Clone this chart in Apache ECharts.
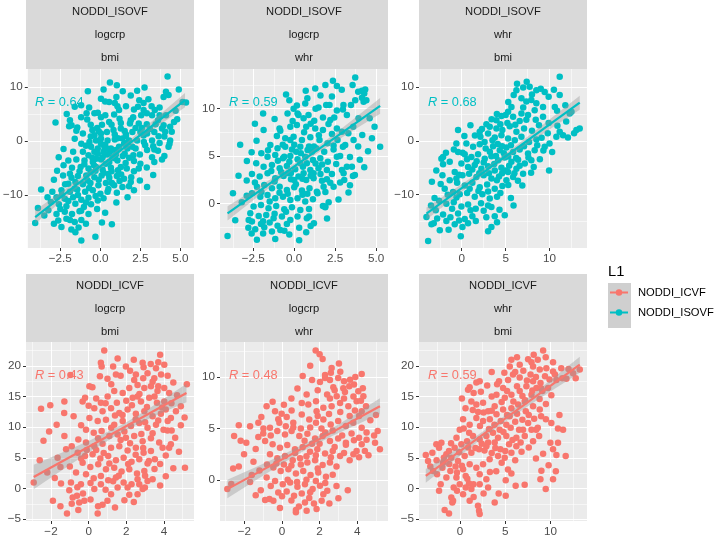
<!DOCTYPE html>
<html><head><meta charset="utf-8">
<script src="https://cdn.jsdelivr.net/npm/echarts@6/dist/echarts.min.js"></script>
<style>html,body{margin:0;padding:0;background:#fff}#c{width:715px;height:538px}</style>
</head><body><div id="c"></div>
<script>
// ---------------- DATA ----------------
const stripTitles = [
  ["NODDI_ISOVF","logcrp","bmi"],["NODDI_ISOVF","logcrp","whr"],["NODDI_ISOVF","whr","bmi"],
  ["NODDI_ICVF","logcrp","bmi"],["NODDI_ICVF","logcrp","whr"],["NODDI_ICVF","whr","bmi"]
];
const panelGroups = ["NODDI_ISOVF","NODDI_ISOVF","NODDI_ISOVF","NODDI_ICVF","NODDI_ICVF","NODDI_ICVF"];
const legendNames = ["NODDI_ICVF","NODDI_ISOVF"];
const legendTitle = "L1";
const rValues = ["0.64","0.59","0.68","0.43","0.48","0.59"];

const p1Points = [[-4.07,-15.2],[-3.7,-9.0],[5.14,7.2],[5.35,7.1],[4.2,11.9],[4.9,9.5],[4.1,9.1],[4.26,8.5],[3.95,8.1],[2.76,9.9],[2.3,9.3],[1.03,10.3],[0.2,9.5],[-0.78,9.2],[2.43,7.5],[2.7,7.0],[2.35,6.3],[0.04,7.8],[0.3,7.3],[0.55,7.2],[1.0,8.1],[1.07,6.4],[1.17,5.7],[1.6,6.4],[3.2,6.4],[3.4,5.7],[3.7,6.2],[2.7,5.7],[2.05,4.4],[2.55,4.75],[2.9,5.1],[3.23,4.75],[3.7,4.75],[4.1,4.75],[-0.86,5.1],[-0.37,5.1],[-0.16,5.2],[0.86,4.9],[0.31,4.75],[-1.9,3.8],[-1.8,2.9],[-1.44,2.5],[-1.95,2.7],[-1.2,4.4],[-0.82,3.95],[0.04,4.4],[0.55,3.5],[1.28,3.3],[1.85,3.2],[2.4,3.2],[2.9,3.1],[3.45,3.1],[3.95,2.9],[4.36,2.6],[3.85,2.3],[4.05,1.7],[4.46,1.7],[-1.09,1.36],[-0.37,1.05],[0.04,1.36],[0.41,1.67],[0.82,2.0],[1.28,2.3],[1.52,1.85],[2.0,1.67],[2.5,1.67],[2.92,1.36],[3.37,1.67],[3.64,0.86],[-1.19,-0.5],[-0.68,-0.2],[-0.27,0.1],[0.04,0.43],[0.45,0.1],[0.9,0.25],[1.38,0.43],[1.8,0.1],[2.3,0.1],[2.72,-0.2],[3.23,0.1],[3.7,-0.4],[4.32,-0.5],[-0.58,-1.1],[-0.16,-1.4],[0.25,-1.1],[0.66,-1.4],[1.17,-1.1],[1.69,-1.4],[2.2,-1.4],[2.92,-1.7],[3.37,-1.6],[-1.7,-2.0],[-1.09,-2.0],[-0.74,-2.65],[-0.16,-2.35],[0.41,-2.5],[0.97,-2.5],[1.52,-2.35],[2.06,-2.65],[2.47,-2.5],[-2.0,-3.6],[-1.5,-3.45],[-0.99,-3.6],[-0.47,-3.9],[0.04,-3.45],[0.56,-3.9],[1.07,-3.6],[1.58,-4.07],[2.1,-3.7],[2.5,-4.2],[3.37,-3.9],[3.85,-3.45],[-2.3,-4.5],[-1.77,-4.94],[-1.23,-4.8],[-0.74,-5.1],[-0.27,-4.8],[0.14,-5.3],[0.66,-4.94],[1.1,-5.4],[1.65,-5.1],[2.1,-5.6],[-2.33,-6.4],[-1.9,-6.05],[-1.4,-6.5],[-0.88,-6.4],[-0.37,-6.7],[0.08,-6.4],[0.56,-6.8],[1.03,-6.5],[1.48,-7.0],[1.93,-6.7],[-2.0,-7.9],[-1.56,-7.6],[-1.09,-8.0],[-0.62,-7.8],[-0.12,-8.2],[0.35,-7.8],[0.86,-8.2],[1.38,-8.5],[1.79,-8.4],[2.1,-9.1],[-2.43,-9.1],[-1.9,-9.4],[-1.44,-9.0],[-0.95,-9.4],[-0.47,-9.1],[0,-9.75],[0.45,-9.4],[1.03,-9.6],[0.72,-7.8],[-2.74,-10.4],[-2.22,-10.7],[-1.7,-10.4],[-1.19,-10.9],[-0.74,-10.5],[-0.16,-11.0],[-3.09,-11.3],[-2.59,-11.7],[-2.12,-12.1],[-1.56,-11.6],[-1.03,-12.2],[-0.58,-11.7],[-3.25,-12.8],[-2.74,-13.5],[-2.22,-13.1],[-1.77,-13.5],[-1.3,-13.0],[-0.74,-13.5],[-2.63,-14.7],[-2.12,-14.4],[-1.6,-15.0],[-1.19,-14.6],[-2.43,-15.9],[-1.81,-16.4],[-1.36,-16.0],[-1.56,-16.9],[-1.19,-18.4],[-0.31,-17.7],[0.72,-15.4],[0.04,-0.5],[-0.37,-2.0],[0.14,-3.0],[-0.27,-3.3],[0.35,-4.2],[0.76,-3.0],[1.28,-4.8],[0.97,-1.7],[1.48,-0.5],[2.0,-1.1],[4.36,0.1],[4.26,-1.1],[2.47,-7.3],[2.92,-8.5],[3.23,-3.0],
[-0.6,0.8],[0.3,-0.7],[0.9,1.2],[-0.2,2.4],[1.6,0.9],[0.6,-2.0],[-0.9,-0.9],[1.9,3.8],[2.6,2.4],[-0.4,-4.5],[0.2,-5.9],[-1.3,-5.6],[0.9,-3.2],[1.4,-2.8],[-0.1,-7.2],[-0.8,-7.3],[-1.6,-8.8],[-2.2,-8.0],[0.5,-8.9],[-0.3,-10.2],[-1.4,-10.0],[-2.0,-11.1],[-1.2,-12.9],[-2.5,-12.6],[-0.2,-12.6],[1.8,-3.1],[2.8,-0.8],[3.1,2.2],[3.6,3.8],[1.2,4.1],[0.1,3.0],[-0.5,2.0],[-1.5,1.9],[-1.6,0.4],[-2.3,-1.5],[-2.6,-3.0],[-2.9,-7.2],[-3.0,-9.4],[-3.5,-13.8],[-0.9,-15.3],[0.3,-13.3],[1.0,-11.4],[1.7,-10.4],[1.3,-6.2],[2.4,-5.1],[2.9,-4.9],[3.3,-6.3],[3.6,-1.8],[4.0,0.8],[4.6,3.5],[4.7,5.6],[3.0,7.7],[1.9,8.4],[1.4,9.2],[0.6,10.8],[-1.2,6.6],[-2.1,5.0],[-2.8,3.4],[-0.6,-5.8],[0.7,-5.6],[1.9,-7.6],[-1.8,-6.8],[-2.7,-5.5],[-0.1,1.8],[0.7,3.0],[2.2,2.4],[1.7,-0.3],[0.2,-2.0],[-0.5,-3.1],[-1.0,-4.3],[0.5,-6.1],[1.2,-7.4],[-0.9,-11.4],[-1.9,-14.6],[-2.9,-15.3],[-3.9,-12.4],[0.1,-15.1],[1.6,1.2],[2.7,1.0],[3.3,-1.0],[4.0,-2.8],[4.8,4.0],[2.1,5.8],[0.9,7.0],[-0.7,6.2],[-1.6,6.3],[-0.6,3.0],[1.1,0.5],[0.4,-1.4],[-0.3,-5.5],[-0.7,-8.7],[0.2,-10.6],[-2.4,-10.0],[-3.3,-10.4]];

const p2Points = [[-4.07,-3.45],[-3.74,1.06],[-2.28,-3.87],[-1.16,-3.77],[-2.89,4.47],[-1.87,7.75],[0.73,-3.06],[0.77,-1.58],[1.89,-0.35],[1.75,-0.28],[3.31,1.13],[5.24,5.99],[4.74,6.87],[4.27,3.8],[3.52,3.87],[3.58,2.89],[3.05,2.46],[2.36,12.96],[3.72,13.3],[2.6,12.4],[3.56,12.5],[1.28,12.15],[4.33,12.04],[4.27,11.6],[4.13,11.9],[4.13,11.16],[4.23,10.74],[3.72,10.9],[1.95,10.4],[2.15,10.4],[1.48,10.14],[2.97,9.93],[3.46,10.4],[0.16,10.35],[-0.04,10.0],[0.67,10.56],[-0.41,9.5],[0.26,9.33],[0.57,8.98],[0.87,9.33],[1.22,8.73],[1.75,9.08],[2.44,9.08],[3.21,9.33],[3.92,8.98],[2.09,8.38],[-0.85,7.68],[-0.24,8.1],[0.16,8.27],[0.73,8.1],[1.28,7.92],[1.75,7.75],[2.3,7.32],[2.91,7.57],[3.62,6.69],[4.15,7.22],[-1.06,7.11],[-0.55,6.87],[-0.04,7.04],[0.47,6.69],[0.98,6.97],[1.54,6.69],[2.03,6.34],[2.64,6.69],[3.11,6.16],[-1.46,6.16],[-1.02,5.81],[-0.55,5.99],[-0.14,5.7],[0.37,5.99],[0.81,5.63],[1.34,5.81],[1.83,5.46],[2.4,5.7],[2.97,5.99],[-2.01,5.28],[-1.63,4.93],[-1.16,5.11],[-0.69,4.75],[-0.24,5.0],[0.2,4.65],[0.67,4.93],[1.14,4.58],[1.59,4.75],[2.05,4.4],[2.56,4.15],[-2.32,4.23],[-1.87,3.87],[-1.36,4.05],[-0.89,3.7],[-0.45,3.94],[0.06,3.59],[0.53,3.87],[0.98,3.52],[1.48,3.7],[1.99,3.52],[-2.58,3.1],[-2.11,2.82],[-1.63,3.17],[-1.16,2.64],[-0.65,2.89],[-0.2,2.54],[0.26,2.82],[0.73,2.46],[1.18,2.64],[1.69,2.39],[2.2,2.18],[-2.28,1.76],[-1.83,1.94],[-1.36,1.58],[-0.89,1.76],[-0.45,1.41],[0,1.69],[0.47,1.34],[0.93,1.58],[1.38,1.23],[1.42,1.06],[-2.58,1.06],[-2.07,0.7],[-1.63,0.88],[-1.16,0.53],[-0.69,0.7],[-0.24,0.35],[0.2,0.53],[0.67,0.18],[1.14,0.42],[-2.48,-0.35],[-2.03,-0.18],[-1.57,-0.53],[-1.1,-0.28],[-0.61,-0.63],[-0.14,-0.42],[0.37,-0.7],[1.89,-0.42],[-2.68,-1.06],[-2.17,-1.34],[-1.71,-1.23],[-1.26,-1.58],[-0.75,-1.41],[-0.24,-1.76],[-2.58,-1.94],[-2.03,-2.18],[-1.5,-2.04],[-1.02,-2.39],[-0.45,-2.18],[-2.38,-2.75],[-1.83,-2.54],[-1.36,-2.99],[-0.85,-2.82],[-2.78,-1.76],[3.01,3.17],[3.21,3.87],[2.6,4.93],[2.91,3.52],[1.99,2.54],[2.4,1.76],[1.79,1.76],[-0.24,6.69],[0.12,5.46],[0.37,4.23],[0.57,3.17],[0,2.46],[-0.35,3.17],[0.77,4.23],[-0.61,4.93],[1.08,5.46],[1.18,3.17],
[-0.3,4.4],[0.4,5.3],[0.9,6.0],[1.3,4.2],[-0.8,3.3],[-1.2,2.3],[0.1,2.0],[0.8,1.0],[1.6,3.1],[2.3,3.1],[2.8,5.0],[3.4,4.9],[3.9,6.0],[2.6,7.9],[1.0,8.4],[-0.1,8.7],[-0.7,6.2],[-1.6,5.6],[-2.4,2.2],[-2.9,2.4],[-3.2,0.1],[-2.8,-2.6],[-1.9,-3.2],[-1.2,-1.1],[-0.5,-0.9],[0.2,-1.4],[0.9,-0.6],[1.2,-2.1],[0.3,-2.6],[-0.6,-2.9],[-1.5,0.2],[-2.0,1.2],[-0.9,1.1],[0.5,0.9],[1.9,1.2],[2.8,2.2],[3.7,3.0],[4.0,4.6],[4.5,5.5],[3.6,8.1],[3.0,10.4],[2.3,11.3],[1.6,11.4],[0.8,11.1],[-0.3,10.9],[-1.2,8.9],[-2.3,6.6],[-2.6,5.4],[-3.4,2.9],[0.0,6.2],[0.6,7.5],[1.5,7.2],[2.2,8.8],[3.3,7.4],[4.6,9.0],[4.9,8.1],[3.9,11.8],[2.9,12.0],[1.9,12.5],[-0.5,11.5],[-1.9,9.5],[-2.4,8.4],[-3.3,6.2],[-3.6,-1.8],[-2.6,-3.2],[-0.3,-3.3],[0.3,-3.9],[1.0,-2.4],[2.0,-1.6],[2.7,0.4],[3.4,1.9],[1.2,6.0],[-0.2,3.2],[-1.0,4.5],[0.5,2.6],[1.7,4.1],[2.4,6.1],[-0.9,7.9],[0.2,9.5],[1.3,10.0],[2.6,9.8],[-1.4,3.4],[-0.4,1.0],[1.0,2.9],[2.1,0.1],[-1.9,-1.9],[-2.9,0.8],[0.7,11.9],[0.9,-1.4],[4.4,10.9]];

const p3Points = [[-4.02,-14.16],[-3.83,-18.6],[-3.45,-15.5],[-3.19,-15.3],[-2.5,-16.6],[-0.11,-17.7],[3.0,-16.8],[3.38,-16.0],[4.02,-15.1],[3.76,-14.0],[11.16,11.9],[11.16,8.5],[13.44,2.3],[13.06,2.0],[12.3,5.1],[12.5,5.4],[10.86,5.6],[10.6,6.3],[9.95,-5.5],[10.3,-2.05],[9.45,-1.1],[10.0,-0.5],[12.1,0.62],[11.54,1.06],[11.16,1.68],[10.78,0.75],[7.74,10.06],[7.0,9.9],[8.5,9.4],[9.45,9.1],[6.23,9.4],[5.92,8.5],[6.8,7.9],[7.36,7.3],[7.93,7.6],[8.5,7.0],[9.26,6.3],[8.31,5.7],[7.55,4.8],[6.8,5.1],[5.66,6.3],[5.0,4.8],[5.85,4.5],[6.6,3.7],[7.36,3.9],[8.43,3.9],[9.26,4.5],[8.8,2.9],[-0.42,2.0],[0.99,2.9],[-2.32,-3.3],[-2.13,-4.35],[-1.37,-3.9],[-2.2,-6.4],[3.19,2.6],[3.95,2.3],[4.63,2.0],[5.47,2.7],[6.23,1.68],[2.13,0.75],[3.0,1.37],[3.76,0.62],[4.52,1.06],[5.28,0.43],[6.04,0.12],[6.8,0.75],[7.67,-0.19],[8.5,0.25],[0.53,-0.5],[1.29,-1.1],[2.05,-0.62],[2.73,-1.43],[3.57,-1.0],[4.33,-1.74],[5.09,-1.24],[5.85,-2.05],[6.6,-1.6],[7.55,-2.36],[8.31,-1.74],[-0.42,-2.05],[0.34,-2.5],[1.1,-3.0],[1.86,-2.5],[2.62,-3.3],[3.38,-2.86],[4.14,-3.6],[4.9,-3.1],[5.66,-3.9],[6.42,-3.5],[7.18,-4.2],[7.93,-3.6],[8.2,-4.84],[-0.04,-4.2],[0.72,-4.84],[1.48,-4.5],[2.24,-5.16],[3.0,-4.7],[3.76,-5.5],[4.52,-5.0],[5.28,-5.8],[6.23,-5.16],[6.99,-6.1],[-0.8,-5.8],[0.08,-6.4],[0.84,-6.1],[1.67,-6.7],[2.5,-6.4],[3.38,-7.0],[4.25,-6.6],[5.09,-7.3],[5.85,-6.7],[-1.37,-7.3],[-0.53,-7.8],[0.34,-8.3],[1.21,-7.8],[2.05,-8.6],[2.89,-8.1],[3.76,-8.9],[4.63,-8.4],[-1.94,-8.9],[-0.99,-9.5],[-0.23,-9.9],[0.61,-9.7],[1.48,-10.4],[2.35,-9.9],[3.19,-10.7],[4.02,-10.4],[-2.58,-11.1],[-1.75,-11.7],[-0.91,-11.4],[-0.04,-12.2],[0.72,-11.8],[1.59,-12.6],[2.5,-13.0],[3.38,-12.3],[-2.96,-12.9],[-2.13,-13.7],[-1.29,-14.2],[-0.42,-13.5],[0.34,-14.5],[1.21,-14.0],[-1.75,-14.9],[-0.8,-15.5],[0.08,-16.0],[0.72,-15.3],[-0.61,-7.0],[-2.13,-3.0],[-0.61,-0.5],[2.05,1.68],[2.81,3.1],[3.95,3.85],[4.52,4.6],[5.28,5.4],
[3.2,-2.0],[4.1,-0.6],[4.8,-2.3],[5.6,-0.8],[2.5,-4.0],[3.7,-4.3],[4.6,-6.0],[5.4,-4.6],[6.2,-3.2],[7.1,-1.0],[2.0,-6.0],[1.2,-5.3],[0.6,-3.4],[-0.3,-6.3],[1.9,-9.3],[3.0,-9.4],[4.4,-9.7],[5.3,-8.2],[6.4,-7.4],[0.9,-8.9],[-0.6,-10.5],[-1.6,-10.0],[-2.4,-8.0],[-3.1,-10.6],[-3.5,-12.0],[-2.8,-14.4],[-1.5,-16.5],[-0.3,-14.8],[1.0,-12.9],[2.2,-11.6],[3.0,-12.0],[4.3,-12.8],[5.6,-10.6],[6.9,-8.3],[7.9,-5.9],[8.9,-3.4],[9.3,-1.8],[9.8,1.4],[10.9,2.8],[11.9,3.6],[12.8,1.4],[9.9,3.3],[8.0,1.9],[7.1,2.3],[6.1,3.0],[5.2,3.3],[4.4,3.1],[3.4,4.0],[2.3,2.2],[1.5,1.0],[0.3,0.9],[-0.9,-1.6],[-1.8,-2.2],[-2.9,-5.5],[-3.4,-7.6],[7.0,6.2],[8.0,8.6],[6.3,10.6],[9.9,8.2],[10.5,9.5],[11.8,6.6],[9.0,9.7],[7.4,11.0],[5.3,7.2],[4.0,5.0],[3.1,-6.0],[4.0,-7.3],[5.0,-5.5],[6.0,-6.0],[6.6,-4.6],[7.6,-3.1],[8.6,-0.8],[9.1,0.6],[1.7,-3.8],[0.1,-2.2],[1.6,-14.9],[2.8,-14.2],[-1.1,-12.6],[4.9,-13.8],[5.9,-12.0],[2.6,-0.2],[3.5,0.1],[4.6,-1.0],[5.3,-2.9],[3.9,-2.8]];

const p4Points = [[-2.92,0.97],[-2.53,13.0],[-2.04,13.6],[-1.29,14.2],[-0.97,18.5],[-1.29,8.55],[-1.65,5.0],[-1.5,3.5],[-1.47,0.8],[-0.94,0.97],[-1.03,-0.27],[-0.85,-1.46],[-1.15,-4.06],[-0.55,-3.5],[-0.5,-2.27],[-0.23,-2.0],[-0.62,-1.19],[0.48,-4.06],[0.74,-2.65],[0.04,16.7],[-0.32,14.2],[-0.19,14.8],[0.83,22.5],[0.65,20.5],[0.69,19.9],[1.54,21.2],[1.45,18.6],[1.98,19.9],[2.87,20.5],[2.92,19.8],[3.8,21.8],[4.02,20.2],[3.58,19.6],[5.22,17.0],[5.12,3.4],[4.9,13.4],[4.64,12.6],[4.37,11.5],[4.41,9.47],[4.19,9.47],[4.37,7.2],[4.28,6.66],[3.93,6.66],[3.52,4.76],[3.4,1.5],[3.13,1.24],[2.99,0.16],[2.87,-0.1],[2.6,-0.92],[2.16,-1.03],[1.19,-0.92],[1.54,0.16],[2.51,18.6],[2.42,17.7],[3.13,18.8],[3.49,18.0],[3.85,18.6],[2.6,16.9],[2.96,16.4],[3.31,16.7],[3.66,15.9],[4.02,16.4],[4.28,15.6],[2.16,16.4],[1.81,15.6],[1.36,15.9],[1.01,15.0],[0.65,14.0],[2.34,14.8],[2.78,14.2],[3.22,14.8],[3.63,14.0],[4.02,14.2],[0.3,13.1],[0.74,12.6],[1.19,13.1],[1.63,12.3],[2.07,12.9],[2.51,12.2],[2.96,12.6],[3.4,11.8],[3.84,12.2],[0.04,11.5],[0.48,11.0],[0.92,11.2],[1.36,10.4],[1.81,11.0],[2.25,10.2],[2.69,10.7],[3.13,9.9],[3.58,10.4],[3.98,9.6],[-0.14,9.6],[0.27,9.1],[0.69,9.4],[1.1,8.55],[1.54,8.8],[1.98,8.3],[2.42,8.55],[2.87,7.7],[3.31,8.2],[3.75,7.5],[-0.55,8.0],[-0.14,7.5],[0.3,6.9],[0.74,7.3],[1.19,6.66],[1.63,6.9],[2.07,6.2],[2.51,6.66],[2.92,5.84],[3.31,6.1],[-0.58,5.84],[-0.19,5.3],[0.21,5.57],[0.62,4.9],[1.04,5.3],[1.45,4.6],[1.86,5.03],[2.28,4.38],[2.69,4.76],[3.13,4.06],[-0.32,4.2],[0.09,3.5],[0.51,3.95],[0.92,3.14],[1.36,3.4],[1.75,2.76],[2.16,3.14],[2.57,2.44],[2.96,2.87],[-0.14,2.33],[0.27,1.68],[0.65,2.06],[1.04,1.35],[1.45,1.79],[1.86,0.97],[2.28,0.7],[0.65,0.7],[0.3,-0.1],[2.07,0.16],[2.69,0.7],[-0.67,2.6],[-0.41,0.7],
[2.3,13.6],[2.7,15.4],[3.1,13.3],[3.5,15.0],[3.9,13.2],[4.2,11.0],[3.7,11.1],[3.0,10.8],[2.5,11.3],[1.9,9.3],[1.4,11.9],[0.9,13.9],[0.4,14.7],[1.2,17.0],[1.7,18.4],[2.2,19.2],[2.9,18.0],[3.3,20.3],[4.2,18.4],[4.5,17.3],[4.7,15.2],[4.1,12.9],[3.4,9.0],[2.8,8.9],[2.2,7.4],[1.7,7.9],[1.2,9.9],[0.5,8.2],[-0.1,6.3],[-0.4,10.3],[-0.8,11.8],[-1.3,12.3],[-1.7,10.4],[-2.1,9.3],[-2.4,7.8],[-2.6,4.6],[-2.2,2.6],[-1.8,1.7],[-1.9,-2.0],[-1.5,-2.9],[-0.9,-2.5],[-0.3,-0.8],[0.1,-1.8],[0.5,-2.9],[1.0,-2.0],[1.4,-3.1],[1.9,-1.9],[2.4,-2.2],[2.6,1.5],[3.0,2.1],[3.5,3.2],[3.8,4.0],[4.1,5.4],[4.6,8.3],[4.9,10.3],[5.1,11.6],[4.8,6.0],[4.5,3.3],[4.1,2.0],[3.8,0.5],[1.1,4.1],[0.8,5.8],[0.4,6.3],[-0.4,4.9],[-1.0,3.6],[-1.2,6.4],[0.0,13.5],[0.2,16.5],[0.6,18.3],[1.0,17.9],[1.5,14.0],[2.0,14.3],[2.6,15.0],[3.4,17.4],[3.7,16.7],[4.4,13.9],[2.1,4.0],[2.5,5.5],[2.9,6.6],[3.2,4.5],[1.6,2.1],[1.3,1.2],[0.9,-0.2],[0.1,0.9],[-0.6,0.2],[-0.9,6.9],[1.8,12.0],[3.7,20.6],[2.4,21.0],[1.3,19.9]];

const p5Points = [[-2.91,-0.9],[-2.55,4.26],[-2.02,2.48],[-1.52,1.77],[-1.61,0.48],[-1.26,5.55],[-1.26,4.16],[-0.99,5.0],[-1.13,-1.0],[-0.9,-1.97],[-0.67,-1.87],[-0.11,-2.74],[0.74,-3.16],[0.74,-2.94],[1.31,-3.0],[1.84,-2.84],[2.52,-2.29],[0.82,8.87],[0.51,6.74],[1.79,12.58],[2.16,11.74],[3.03,11.3],[2.29,10.2],[2.29,9.9],[2.02,9.5],[2.55,9.7],[4.24,10.3],[3.58,9.1],[3.83,9.26],[3.26,8.9],[5.21,2.97],[4.95,3.6],[4.41,2.8],[3.97,2.8],[5.09,4.74],[4.47,7.16],[4.24,6.68],[3.97,7.65],[3.35,8.55],[2.91,8.13],[2.55,7.9],[1.81,7.65],[1.4,7.32],[1.84,6.68],[2.2,7.0],[2.64,7.16],[3.09,7.48],[3.53,7.16],[3.88,6.74],[-0.37,6.68],[-0.02,6.42],[0.25,6.1],[0.6,5.55],[1.05,6.35],[1.45,5.87],[1.81,5.55],[2.2,5.87],[2.59,5.39],[2.99,5.71],[3.4,5.23],[3.79,5.55],[4.24,5.06],[-0.64,5.06],[-0.25,4.74],[0.16,4.42],[0.51,4.74],[0.92,4.26],[1.35,4.48],[1.76,4.03],[2.16,4.26],[2.55,3.77],[2.99,4.03],[3.4,3.61],[3.83,3.84],[4.24,3.45],[-0.9,3.77],[-0.5,3.45],[-0.11,3.13],[0.28,3.39],[0.69,2.97],[1.1,3.19],[1.49,2.74],[1.88,2.97],[2.29,2.55],[2.7,2.81],[3.09,2.32],[-0.64,2.48],[-0.25,2.1],[0.16,2.32],[0.57,1.9],[0.96,2.1],[1.35,1.68],[1.76,1.9],[2.16,1.45],[2.55,1.68],[-0.46,1.19],[-0.07,0.87],[0.34,1.03],[0.74,0.61],[1.13,0.87],[1.52,0.48],[1.93,0.71],[2.34,0.29],[-0.82,0.23],[-0.37,-0.1],[0.04,-0.42],[0.43,-0.26],[0.82,-0.68],[1.22,-0.42],[1.63,-0.9],[2.02,-0.58],[2.41,-1.06],[0.25,-1.13],[0.64,-1.55],[1.05,-1.32],[1.45,-1.77],[1.22,-2.19],[2.2,-1.39],[2.11,-2.03],[-0.46,-2.03],[-0.2,-1.23],[1.31,8.29],[1.05,7.48],[2.73,9.0],[2.99,9.9],[3.3,9.58],[3.62,9.74],[2.64,10.87],[4.06,8.61],[4.33,8.13],[-0.82,7.16],[-0.14,5.55],
[1.6,3.5],[2.3,4.6],[2.8,3.2],[3.2,4.3],[3.7,4.5],[4.1,4.1],[4.5,4.6],[4.7,5.8],[4.1,6.2],[3.6,6.2],[3.1,6.6],[2.5,6.4],[1.9,6.2],[1.5,5.1],[1.0,5.0],[0.6,5.1],[0.2,5.2],[-0.2,5.9],[-0.6,4.3],[-1.0,4.5],[-1.4,3.0],[-1.9,3.6],[-2.3,1.3],[-1.7,-0.2],[-1.2,0.9],[-0.8,1.5],[-0.3,1.6],[0.1,1.5],[0.5,1.4],[1.0,1.5],[1.3,2.3],[1.8,2.4],[2.0,3.5],[2.6,2.2],[2.9,1.3],[3.3,2.6],[3.6,1.9],[4.1,2.2],[4.5,3.9],[4.9,4.3],[4.2,7.7],[3.8,8.1],[3.3,7.9],[2.8,8.7],[2.4,8.3],[1.9,8.7],[1.6,9.7],[1.1,10.1],[1.5,11.1],[2.6,10.4],[3.1,10.5],[3.9,10.0],[4.3,8.9],[0.5,7.9],[0.1,7.3],[-0.5,7.6],[-1.1,6.1],[-1.7,5.2],[-2.2,3.8],[-2.6,1.1],[0.3,0.0],[0.8,-0.2],[1.3,0.0],[1.8,-0.1],[2.3,-0.3],[2.7,0.5],[2.9,-0.6],[0.5,-2.0],[0.9,-2.6],[1.7,-2.3],[1.5,-1.2],[0.0,-1.6],[-0.6,-0.6],[-1.4,-1.5],[1.9,1.1],[0.7,2.6],[1.2,3.8],[2.1,5.0],[2.7,4.8],[3.4,3.4],[3.8,2.5],[4.6,2.4],[5.0,6.3],[2.0,12.2],[-2.3,5.3],[-2.7,-0.4],[3.5,-1.0],[3.0,-1.8]];

const p6Points = [[-3.8,5.47],[-3.55,4.5],[-3.07,5.84],[-2.63,7.2],[-2.33,6.66],[-2.07,7.47],[-2.55,2.33],[-2.33,-0.38],[-1.89,4.22],[-1.52,5.57],[-2.15,0.7],[-1.71,-3.5],[-1.23,-4.06],[-0.97,-1.46],[-0.86,-2.27],[-0.78,-2.0],[-0.34,-0.38],[0.33,-0.92],[0.62,0.16],[1.06,-2.0],[1.48,0.7],[0.99,0.81],[1.25,-0.1],[2.1,-3.63],[2.17,-4.17],[1.98,-2.81],[3.83,-2.27],[4.27,-0.8],[5.05,-1.2],[5.05,1.35],[5.68,2.44],[6.15,0.43],[7.15,0.6],[9.48,-0.1],[10.29,1.52],[8.89,1.52],[10.66,5.47],[11.69,5.3],[9.19,5.68],[10.84,7.47],[10.84,9.8],[8.97,11.8],[8.6,9.9],[8.42,9.6],[9.19,22.5],[9.48,21.4],[8.15,21.8],[10.29,20.6],[9.55,19.6],[8.82,19.4],[8.08,19.9],[7.53,21.1],[6.6,20.2],[13.25,19.4],[12.51,18.8],[11.77,17.9],[11.32,18.0],[10.66,17.7],[9.74,16.4],[9.11,15.9],[6.6,18.1],[5.86,18.6],[5.31,17.7],[4.31,17.5],[2.17,17.5],[1.8,17.3],[1.06,16.5],[0.88,16.1],[1.25,14.2],[1.8,13.7],[2.54,14.0],[3.1,12.6],[3.83,13.4],[4.76,16.4],[4.03,15.3],[4.95,14.8],[5.68,15.3],[6.6,15.9],[7.34,16.7],[8.08,17.5],[8.45,16.4],[7.9,15.3],[7.16,14.2],[6.42,13.7],[5.68,13.1],[4.76,12.9],[4.03,12.1],[3.29,11.3],[2.54,11.0],[1.8,11.5],[1.06,10.4],[0.33,11.3],[-0.04,9.6],[5.49,11.8],[6.31,12.2],[7.27,12.6],[8.08,13.4],[8.82,12.9],[7.53,10.7],[6.97,9.6],[6.53,9.6],[7.9,9.6],[5.12,10.4],[4.38,9.6],[3.64,9.1],[2.91,8.55],[2.17,8.0],[1.43,8.55],[0.77,7.7],[0.14,7.2],[-0.6,6.66],[-1.23,6.1],[-0.97,5.0],[-0.23,4.5],[0.51,5.3],[1.25,5.84],[2.1,6.4],[2.91,6.9],[3.83,7.5],[4.46,6.4],[5.42,7.2],[5.68,5.84],[4.94,5.0],[4.2,5.3],[3.27,4.76],[2.54,3.95],[1.8,3.4],[1.06,3.95],[0.33,3.14],[-0.34,2.6],[-1.08,2.87],[-1.52,1.79],[-0.41,1.79],[0.62,2.06],[2.17,2.33],[2.91,1.52],[2.17,0.7],[3.1,0.16],[-0.04,0.7],[-0.71,0.16],[6.23,8.3],[7.16,8.55],[8.08,7.7],[8.75,8.55],[6.23,6.9],[5.12,8.55],[4.2,8.3],[9.99,7.47],[10.29,6.4],[5.68,21.0],[10.29,19.1],[-1.96,3.4],[-2.99,2.87],
[4.6,14.1],[5.2,15.9],[5.9,14.2],[6.3,16.7],[6.9,15.1],[7.4,17.6],[7.8,18.6],[8.4,18.2],[8.9,17.2],[9.4,18.3],[9.9,17.8],[10.5,18.6],[11.2,19.6],[12.0,19.5],[12.8,18.0],[10.1,15.2],[9.5,13.8],[8.8,14.6],[8.2,11.4],[7.6,12.0],[6.9,11.2],[6.1,10.9],[5.6,9.9],[5.2,12.0],[4.5,11.0],[3.8,10.4],[3.2,9.7],[2.6,12.4],[2.0,12.5],[1.4,12.8],[0.6,13.1],[0.2,14.7],[1.5,15.6],[2.3,15.8],[3.0,16.8],[3.5,15.0],[4.1,17.0],[4.9,18.9],[5.5,19.9],[6.1,19.0],[7.0,19.2],[7.9,20.6],[8.6,21.0],[6.3,21.4],[3.5,19.0],[2.7,6.2],[3.5,5.8],[4.6,4.2],[5.3,3.1],[6.1,4.6],[6.8,6.0],[7.6,6.7],[8.4,4.9],[9.0,2.9],[9.8,3.8],[10.6,2.8],[11.4,9.6],[11.0,12.0],[10.1,10.7],[9.5,11.3],[4.0,2.8],[3.3,2.7],[2.6,-0.8],[1.5,-1.4],[0.8,1.6],[0.2,3.7],[-0.5,3.6],[-1.2,4.0],[-1.8,5.0],[-2.6,4.6],[-3.3,3.6],[-0.1,5.9],[0.9,6.7],[1.7,6.6],[2.4,7.3],[3.1,7.5],[3.9,6.6],[5.0,6.1],[5.8,7.9],[6.7,7.5],[4.8,9.2],[3.5,12.7],[2.2,10.2],[1.0,9.1],[0.4,9.8],[-0.4,8.3],[-1.0,7.4],[7.2,14.4],[8.0,16.0],[9.0,16.3]];

// fitted lines (endpoints)
const fit1 = [[-4.07,-14.07],[5.29,7.55]];
const fit2 = [[-4.07,-1.06],[5.24,10.29]];
const fit3 = [[-4.02,-13.5],[13.44,7.1]];
const fit4 = [[-2.92,1.89],[5.2,15.58]];
const fit5 = [[-2.91,-0.9],[5.21,7.16]];
const fit6 = [[-3.8,2.06],[13.25,20.2]];
// confidence bands [x, lower, upper]
const band1 = [[-4.07,-15.32,-12.82],[-2.5,-11.34,-9.54],[-1,-7.61,-6.35],[0.5,-4.01,-3.01],[2,-0.68,0.58],[3.5,2.52,4.32],[5.29,6.25,8.85]];
const band2 = [[-4.07,-1.81,-0.32],[-2.5,0.32,1.38],[-1,2.32,3.04],[0.3,3.97,4.57],[1.6,5.49,6.21],[3.2,7.26,8.34],[5.24,9.46,11.12]];
const band3 = [[-4.02,-14.64,-12.37],[-1,-10.75,-9.13],[2,-6.96,-5.84],[4,-4.54,-3.54],[6.5,-1.68,-0.50],[10,2.13,3.95],[13.44,5.8,8.4]];
const band4 = [[-2.92,-0.11,3.89],[-1.5,2.82,5.74],[0,5.87,7.75],[1.8,9.25,10.45],[3,11.10,12.64],[4.2,12.75,15.03],[5.2,14.08,17.08]];
const band5 = [[-2.91,-1.8,0.0],[-1.5,-0.15,1.15],[0,1.57,2.41],[1.5,3.18,3.78],[2.7,4.29,5.05],[4,5.39,6.53],[5.21,6.39,7.93]];
const band6 = [[-3.8,0.93,3.19],[-1,4.22,5.86],[2,7.67,8.79],[4,9.86,10.86],[6.5,12.42,13.62],[10,15.81,17.67],[13.25,18.9,21.5]];

// axis ranges and ticks
const xLimits = [[-4.53,5.85],[-4.53,5.72],[-4.87,14.27],[-3.33,5.6],[-3.3,5.64],[-4.55,14.05]];
const yLimits = [[-19.8,13.3],[-4.73,14.2],[-19.9,13.35],[-5.3,23.9],[-4.0,13.4],[-5.3,23.9]];
const xTicks = [[-2.5,0,2.5,5],[-2.5,0,2.5,5],[0,5,10],[-2,0,2,4],[-2,0,2,4],[0,5,10]];
const xMinorTicks = [[-3.75,-1.25,1.25,3.75],[-3.75,-1.25,1.25,3.75],[-2.5,2.5,7.5,12.5],[-3,-1,1,3,5],[-3,-1,1,3,5],[-2.5,2.5,7.5,12.5]];
const xDecimals = [1,1,0,0,0,0];
const yTicks = [[-10,0,10],[0,5,10],[-10,0,10],[-5,0,5,10,15,20],[0,5,10],[-5,0,5,10,15,20]];
const yMinorTicks = [[-15,-5,5],[-2.5,2.5,7.5,12.5],[-15,-5,5],[-2.5,2.5,7.5,12.5,17.5,22.5],[-2.5,2.5,7.5,12.5],[-2.5,2.5,7.5,12.5,17.5,22.5]];

// ---------------- CHART ----------------
const pointSets = [p1Points,p2Points,p3Points,p4Points,p5Points,p6Points];
const fits = [fit1,fit2,fit3,fit4,fit5,fit6];
const bands = [band1,band2,band3,band4,band5,band6];
const COLORS = {NODDI_ISOVF:'#00BFC4', NODDI_ICVF:'#F8766D'};
const FONT = '"Liberation Sans", Arial, Helvetica, sans-serif';
const colLeft = [26,220,419], panelW = 168;
const rowStripTop = [0,274], rowPlotTop = [69,342], rowPlotH = [179,180];

function fmt(v, d){ const s = Math.abs(v).toFixed(d); return (v < 0 ? '\u2212' : '') + s; }

const grids=[], xAxes=[], yAxes=[], series=[], graphics=[];
for (let i=0;i<6;i++){
  const c=i%3, r=Math.floor(i/3);
  const L=colLeft[c], T=rowPlotTop[r], H=rowPlotH[r];
  grids.push({left:L, top:T, width:panelW, height:H, show:true, backgroundColor:'#EBEBEB', borderWidth:0, containLabel:false});
  const xd = xDecimals[i];
  xAxes[i] = {type:'value', gridIndex:i, min:xLimits[i][0], max:xLimits[i][1], position:'bottom',
    axisLine:{show:false,onZero:false},
    axisTick:{show:true,length:3,lineStyle:{color:'#333333',width:1},customValues:xTicks[i]},
    axisLabel:{customValues:xTicks[i],color:'#4D4D4D',fontSize:11.7,fontFamily:FONT,margin:5,formatter:v=>fmt(v,xd)},
    splitLine:{show:true,lineStyle:{color:'#FFFFFF',width:1.1}}};
  xAxes[6+i] = {type:'value', gridIndex:i, min:xLimits[i][0], max:xLimits[i][1], position:'top',
    axisLine:{show:false,onZero:false}, axisTick:{show:false,customValues:xMinorTicks[i]}, axisLabel:{show:false},
    splitLine:{show:true,lineStyle:{color:'#FFFFFF',width:0.55}}};
  yAxes[i] = {type:'value', gridIndex:i, min:yLimits[i][0], max:yLimits[i][1], position:'left',
    axisLine:{show:false,onZero:false},
    axisTick:{show:true,length:3,lineStyle:{color:'#333333',width:1},customValues:yTicks[i]},
    axisLabel:{customValues:yTicks[i],color:'#4D4D4D',fontSize:11.7,fontFamily:FONT,margin:5,formatter:v=>fmt(v,0)},
    splitLine:{show:true,lineStyle:{color:'#FFFFFF',width:1.1}}};
  yAxes[6+i] = {type:'value', gridIndex:i, min:yLimits[i][0], max:yLimits[i][1], position:'right',
    axisLine:{show:false,onZero:false}, axisTick:{show:false,customValues:yMinorTicks[i]}, axisLabel:{show:false},
    splitLine:{show:true,lineStyle:{color:'#FFFFFF',width:0.55}}};

  const g = panelGroups[i], col = COLORS[g];
  series.push({type:'scatter', name:g, xAxisIndex:i, yAxisIndex:i, data:pointSets[i], symbol:'circle', symbolSize:6.5,
    itemStyle:{color:col, opacity:1}, silent:true, z:2, animation:false});
  const band = bands[i];
  series.push({type:'custom', name:'band'+i, xAxisIndex:i, yAxisIndex:i, data:band, encode:{x:0,y:[1,2]}, silent:true, z:3, animation:false,
    renderItem:(params, api)=>{
      if (params.dataIndex!==0) return {type:'group',children:[]};
      const up = band.map(b=>api.coord([b[0],b[2]]));
      const lo = band.slice().reverse().map(b=>api.coord([b[0],b[1]]));
      return {type:'polygon', shape:{points:up.concat(lo), smooth:0}, style:{fill:'rgba(153,153,153,0.4)'}};
    }});
  series.push({type:'line', name:'fit'+i, xAxisIndex:i, yAxisIndex:i, data:fits[i], symbol:'none', showSymbol:false,
    lineStyle:{color:col,width:2.2}, silent:true, z:4, animation:false});

  // strip
  const ST = rowStripTop[r];
  graphics.push({type:'rect', shape:{x:L, y:ST, width:panelW, height:T-ST}, style:{fill:'#D9D9D9'}, silent:true, z:1});
  [12,35,58].forEach((dy,k)=>{
    graphics.push({type:'text', x:L+panelW/2, y:ST+dy, silent:true, z:2,
      style:{text:stripTitles[i][k], fill:'#1A1A1A', font:'11.2px '+FONT, align:'center', verticalAlign:'middle', textAlign:'center', textVerticalAlign:'middle'}});
  });
  // R annotation (drawn above points)
  graphics.push({type:'text', x:L+9, y:T+33, silent:true, z:100, zlevel:0,
    style:{text:'{i|R} = '+rValues[i], fill:col, font:'12.8px '+FONT, align:'left', verticalAlign:'middle', textAlign:'left', textVerticalAlign:'middle',
      rich:{i:{fontStyle:'italic', fontSize:12.8, fontFamily:FONT, fill:col}}}});
}

// legend title and key background
graphics.push({type:'text', x:608, y:271.5, silent:true, z:2,
  style:{text:legendTitle, fill:'#000000', font:'14.7px '+FONT, align:'left', verticalAlign:'middle', textAlign:'left', textVerticalAlign:'middle'}});
graphics.push({type:'rect', shape:{x:608, y:283, width:23, height:45}, style:{fill:'#CFCFCF'}, silent:true, z:0});

const ICON = 'path://M0,2.15 L18,2.15 L18,4.35 L0,4.35 Z M12.25,3.25 A3.25,3.25 0 1 1 5.75,3.25 A3.25,3.25 0 1 1 12.25,3.25 Z';

const option = {
  animation:false,
  backgroundColor:'#FFFFFF',
  grid:grids, xAxis:xAxes, yAxis:yAxes, series:series,
  legend:{data:legendNames.map(n=>({name:n, icon:ICON})), orient:'vertical', left:610, top:287, itemWidth:18, itemHeight:6.5, itemGap:9,
    selectedMode:false, padding:0, textStyle:{fontSize:11.2, color:'#000000', fontFamily:FONT, padding:[0,0,0,5]}},
  graphic:{elements:graphics, z:100}
};
const chart = echarts.init(document.getElementById('c'), null, {renderer:'canvas'});
chart.setOption(option);
</script></body></html>
